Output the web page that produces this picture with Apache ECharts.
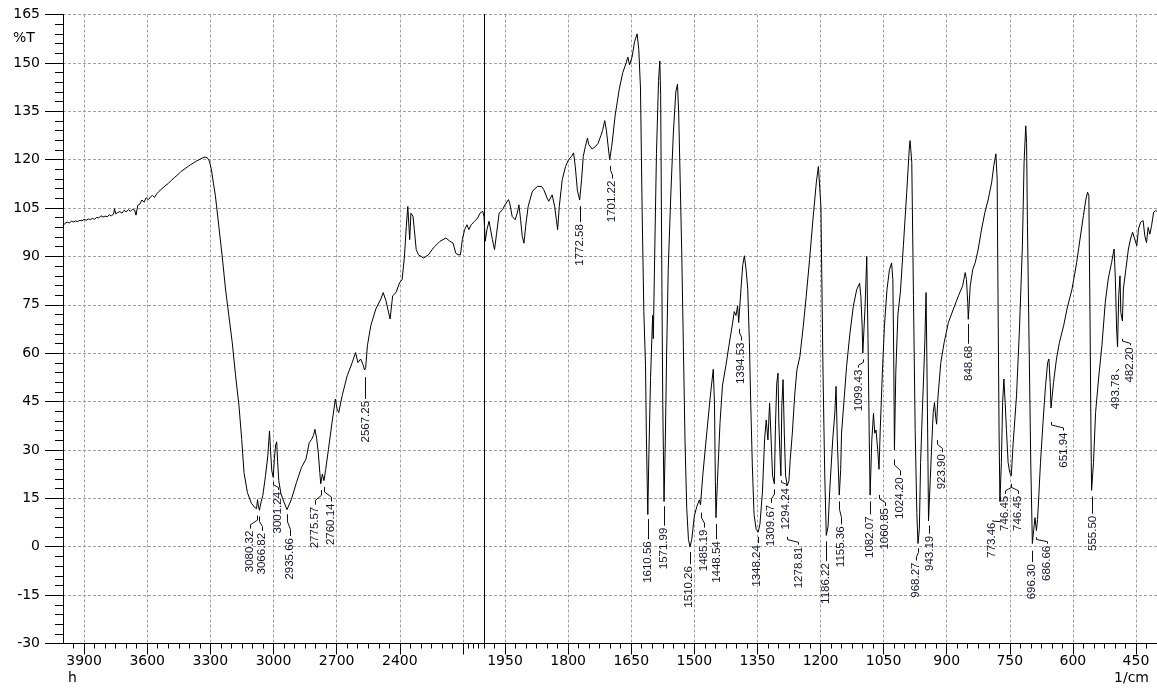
<!DOCTYPE html>
<html><head><meta charset="utf-8">
<script src="https://cdn.jsdelivr.net/npm/echarts@6/dist/echarts.min.js"></script>
<style>html,body{margin:0;padding:0;background:#fff}#c{width:1157px;height:689px}</style>
</head><body><div id="c"></div>
<script>
// ---------------- data (wavenumber in 1/cm, transmittance in %T) ----------------
const wavenumbers = [
4000,3990,3980,3970,3960,3950,3940,3930,3920,3910,3900,3890,3880,3870,3860,3850,3840,3830,3820,3810,
3800,3790,3780,3770,3760,3755,3750,3740,3730,3720,3710,3700,3690,3680,3670,3660,3653,3645,3635,3625,
3615,3605,3595,3585,3575,3565,3555,3545,3530,3515,3500,3485,3470,3455,3440,3425,3410,3395,3380,3365,
3350,3335,3325,3315,3305,3295,3285,3276,3260,3244,3228,3212,3196,3180,3164,3151,3140,3124,3105,3090,
3080.32,3076,3071,3066.82,3060,3051,3038,3027,3019,3013,3008,3001.24,2996,2990,2985,2980,2975,2965,2950,2935.66,
2915,2891,2867,2846,2830,2819,2810,2803,2795,2787,2780,2775.57,2768,2760.14,2752,2739,2722,2706,2698,2690,
2674,2650,2626,2610,2599,2586,2575,2567.25,2562,2554,2538,2514,2490,2479,2466,2458,2446,2434,2418,2400,
2389,2378,2369,2362,2353,2347,2337,2331,2322,2311,2287,2264,2241,2209,2181,2162,2147,2134,2123,2112,
2103,2092,2081,2072,2061,2045,2030,2019,2006,2000,
1997,1993,1988,1984,1980,1975,1970,1964,1956,1950,1942,1939,1933,1926,1921,1917,1913,1909,1905,1901,
1895,1885,1873,1863,1858,1850,1846,1838,1832,1828,1825,1821,1814,1806,1799,1792,1787,1783,1778,1772.58,
1768,1764,1759,1754,1751,1743,1735,1729,1722,1718,1713,1709,1705,1701.22,1696,1688,1678,1670,1662,1658,
1654,1648,1642,1636,1632,1628,1624,1620,1616,1614,1612,1610.56,1608,1604,1601,1599,1597.5,1594,1590,1585,
1582,1580,1577,1575,1571.99,1569,1566,1562,1556,1550,1544,1540,1537,1534,1530,1526,1522,1518,1514,1510.26,
1506,1500,1494,1488,1485.19,1480,1470,1462,1455,1452,1450,1448.54,1445,1439,1433,1425,1418,1409,1405,1401,
1397,1394.53,1389,1385,1381,1377,1373,1369,1366,1362,1358,1353,1348.24,1344,1338,1333,1329,1325,1321,1318,
1314,1309.67,1307,1304,1301,1299,1296.5,1294.24,1292,1289,1286,1283,1278.81,1275,1272,1267,1261,1256,1249,1241,
1234,1226,1218,1210,1205,1202,1199,1197,1194,1190,1186.22,1182,1178,1171,1166,1163,1160,1155.36,1152,1150,
1144,1138,1130,1122,1114,1107,1104,1101,1099.43,1094,1090,1087,1084,1082.07,1078,1074,1071,1068,1064,1060.85,
1058,1053,1048,1042,1036,1031,1028,1026,1024.2,1021,1016,1010,1003,995,989,987,983,979,975,971,
968.27,965,962,958,955,952,949,947,944.5,943.19,939,935,932,929,926,923.9,921,914,906,896,
884,872,862,856,853,850,848.68,844,838,832,825,817,809,801,793,788,783,780,778,775.5,
773.46,770,767,764,761,758,754,750,746.45,742,734,727,720,716,712,710,708,704,700,696.3,
693,690,686.66,684,681,677,671,665,660,657,654,651.94,646,639,632,622,614,602,591,583,
575,569,565,562,559,557,555.5,551,546,539,531,523,516,508,502,499,496,493.78,491,488,
486,482.2,480,474,468,463,458,453,448,444,439,433,429,425,421,417,413,408,403,400
];
const transmittance = [
99.5,100.3,100.6,100.4,100.9,100.7,101.0,100.8,101.2,101.0,101.5,101.2,101.6,101.4,101.8,101.5,102.1,101.9,102.6,102.2,
102.5,102.3,102.9,102.6,103.1,104.8,103.2,103.6,103.9,103.4,104.3,103.8,104.5,104.0,104.6,104.4,102.8,105.8,106.2,107.5,
106.8,108.2,107.6,108.4,108.9,108.3,109.4,110.1,111.0,111.9,112.6,113.6,114.5,115.3,116.3,117.0,117.7,118.4,119.0,119.6,
120.1,120.6,120.8,120.6,119.6,117,112.5,108.8,99.5,90.2,79.9,71.6,63.3,53,43.7,33.3,23,16.8,13.5,12.2,
11.8,14.6,12.4,11.3,13.6,15.8,22,28.2,35.9,28.7,23.5,21.5,27,31.5,32.5,26,20.5,16.5,13.8,11.5,
14.7,19.9,24.6,27.1,32.3,33.3,34.5,36.4,33.6,29,23,19.5,22.5,20.5,24,30.2,38.5,45.8,42.7,41.6,
46.8,53,57.1,60.2,57.1,58.2,56.5,54.8,55.5,62.3,68.5,73.7,76.8,78.8,76.3,76.8,70.6,77.8,78.8,82,
82.8,90,99.3,105.5,95.2,103.4,102.4,98.3,92.1,90.5,89.5,90.5,92.6,94.7,95.7,94.7,94.1,91,90.5,90.5,
95.2,98.3,99.8,98.3,99.8,100.9,101.9,103.4,104,102.4,
94.7,98.3,100.9,100.3,95.2,92.1,97.2,103.4,104.5,106,107.6,106.6,102.4,101.4,103.4,106,101.4,96.2,94.1,99.3,
105.5,110.2,111.7,111.7,110.7,108.1,107.1,109.1,105.5,101.4,98.3,105.5,113.8,117.9,120,121,122.1,117.9,110.5,107.5,
113.8,121,124.1,126.7,124.7,123.3,124.1,125,127.5,129.1,132.1,129.1,124.3,120,124.5,133.9,142.2,147,150,151.8,
149.4,151.8,156.6,159,154.2,142.2,104,72.9,56.1,34.6,20.2,10,28.6,52.5,64.5,71.7,64.5,92,121.9,144.6,
150.6,139.8,80,44.1,14,32.2,58.5,86,108.7,127.9,141,143.4,133.9,116,92,62.1,32.2,11.9,2.3,0,
2.3,9.5,12.5,14.5,13,22,35.8,46.6,55,44.2,20.3,9,20.3,38.2,50.1,56.1,62.1,69.3,72.9,71.7,
74.7,69.5,80,87.2,90.2,86,80,63.3,45,25,10,5.4,4.5,7,17,33.1,39.3,33.1,44.5,35.2,
22,19.5,38,50.7,53.8,38.3,29,22,43.5,51.8,35,22,19,20.5,27,35.2,47.6,54.9,59,68.3,
77.6,89,101.4,112.8,117.9,118.5,105.5,84.8,53.8,22.8,3.5,6.3,17.6,33.1,41.4,49.7,33.1,16,24,35.2,
45.5,55.9,66.2,74.5,79.7,81.7,77.6,68.3,60,74.5,90,64.2,33.1,16,33.1,41.4,35.2,36.2,30,24,
36.2,53.8,68.3,79.7,85.9,88,82.8,60,30,54,72,79,93.3,109.9,123.3,125.9,119.2,77.8,36.4,10.6,
1,5.4,26.1,41.6,52,63.3,78.8,57.1,26.1,8,20.9,33.4,41.6,44.7,40,38,46,57.1,63.3,69.5,
73.7,77.8,80.9,85,82.9,75.7,70.5,80.9,86,88.1,92.3,98.5,103.7,107.8,113,118.1,121.8,114,77.8,36.4,
14,26.1,44.7,52,44.7,36.4,26.1,23,22,32,46.8,67.5,93.3,119.2,130.5,125,100,62,25,1,
5.4,9,5,8.5,15.8,26.1,38.5,49.9,57.1,58.2,50.9,43,50.9,58.2,63.3,68.5,73.7,79.9,88.1,95.4,
102.6,107.8,109.9,108.8,67.5,35,17.5,26.1,41.6,52,62.3,75.7,83,88.1,92.3,83,67.5,62,77.8,84,
72.6,70,79.9,86,92.3,95.4,97.5,95.4,93.3,98.5,100.6,101.1,96.4,94.3,99,96.9,99.5,103.7,104.2,104
];

// peak annotations
const peakLabels = ['3080.32','3066.82','3001.24','2935.66','2775.57','2760.14','2567.25','1772.58','1701.22','1610.56',
  '1571.99','1510.26','1485.19','1448.54','1394.53','1348.24','1309.67','1294.24','1278.81','1186.22',
  '1155.36','1099.43','1082.07','1060.85','1024.20','968.27','943.19','923.90','848.68','773.46',
  '746.45','746.45','696.30','686.66','651.94','555.50','493.78','482.20'];
const peakT = [10.6,10.3,21,11,18.5,19.5,53.5,106.5,119,9.5,
  13.5,-0.7,11.5,8,68.5,4,18.7,21.5,4,2.6,
  15,59,15,17,28,0.5,7.5,34,70,8.5,
  20.4,20.4,-0.3,3.9,39.6,16.5,56,65.4];
// where each label text is placed (wavenumber of its column, %T of its top end)
const labelWavenumbers = [3114,3054,2978,2921,2805,2729,2563,1771.8,1696,1611,
  1572,1512.6,1478,1447,1390,1351,1318,1282,1252.5,1187,
  1152,1110,1082,1046.6,1011,973.5,939.4,911.6,847,793,
  761,730,698,662,622.3,553.7,497.3,464];
const labelT = [5,4.3,17,2.7,12.4,13.4,45.2,100,113.5,1.7,
  5.9,-6,5.3,1.7,63.3,0.5,13,18.2,0,-5.1,
  6.3,54.9,9.4,12,21.5,-4.9,3.4,28.7,62.3,7.5,
  15.8,15.8,-5.4,0.3,35.4,9.6,53.5,61.8];

// axis ticks
const leftTickLabels = [3900,3600,3300,3000,2700,2400];
const leftTicks = [3900,3600,3300,3000,2700,2400,2100];
const leftMinorTicks = [3950,3850,3800,3750,3700,3650,3550,3500,3450,3400,3350,3250,3200,3150,3100,3050,2950,2900,2850,2800,2750,2650,2600,2550,2500,2450,2350,2300,2250,2200,2150,2075,2050,2025];
const rightTickLabels = [1950,1800,1650,1500,1350,1200,1050,900,750,600,450];

// ---------------- build ----------------
const BREAK = 2000;
const leftData = [], rightData = [];
for (let i = 0; i < wavenumbers.length; i++) {
  const p = [wavenumbers[i], transmittance[i]];
  if (wavenumbers[i] >= BREAK) leftData.push(p);
  if (wavenumbers[i] <= BREAK) rightData.push(p);
}
const leftPeaks = [], rightPeaks = [];
for (let i = 0; i < peakLabels.length; i++) {
  const w = parseFloat(peakLabels[i]);
  const item = {value: [w, peakT[i], labelWavenumbers[i], labelT[i]], name: peakLabels[i]};
  (w >= BREAK ? leftPeaks : rightPeaks).push(item);
}

const AXIS_FONT = 'DejaVu Sans';
const PEAK_FONT = '11.5px "Liberation Sans", Arial, sans-serif';
const gridDash = {color: '#a0a0a0', width: 1, type: [3, 2]};
const plain = v => String(v);

function renderPeak(params, api) {
  const a = api.coord([api.value(0), api.value(1)]);
  const b = api.coord([api.value(2), api.value(3)]);
  const x0 = Math.round(a[0]) + 0.5, y0 = a[1] + 3;
  const x3 = Math.round(b[0]) + 0.5, y3 = b[1] - 2;
  const d = y3 - y0;
  let pts;
  if (Math.abs(x3 - x0) < 1.5) pts = [[x0, y0], [x0, y3]];
  else pts = [[x0, y0], [x0, y0 + d * 0.35], [x3, y0 + d * 0.7], [x3, y3]];
  const name = params.seriesIndex === 2 ? leftPeaks[params.dataIndex].name : rightPeaks[params.dataIndex].name;
  return {
    type: 'group',
    children: [
      {type: 'polyline', shape: {points: pts}, style: {stroke: '#111', lineWidth: 1, fill: null}},
      {type: 'text', x: b[0], y: b[1], rotation: Math.PI / 2,
       style: {text: name, x: 0, y: 0, align: 'right', verticalAlign: 'middle', font: PEAK_FONT, fill: '#14142a'}}
    ]
  };
}

const chart = echarts.init(document.getElementById('c'), null, {renderer: 'canvas'});
const axisLine = {show: true, onZero: false, lineStyle: {color: '#000', width: 1}};
chart.setOption({
  animation: false,
  backgroundColor: '#fff',
  grid: [
    {left: 63, top: 14.5, width: 421, height: 629},
    {left: 484, top: 14.5, width: 673, height: 629}
  ],
  xAxis: [
    {gridIndex: 0, type: 'value', min: 2000, max: 4000, inverse: true, position: 'bottom',
     axisLine: axisLine,
     axisTick: {show: true, length: 11, customValues: leftTicks, lineStyle: {color: '#000'}},
     axisLabel: {customValues: leftTickLabels, margin: 11, color: '#000', fontFamily: AXIS_FONT, fontSize: 14, formatter: plain},
     splitLine: {show: true, lineStyle: gridDash}},
    {gridIndex: 0, type: 'value', min: 2000, max: 4000, inverse: true, position: 'bottom',
     axisLine: {show: false, onZero: false},
     axisTick: {show: true, length: 5, customValues: leftMinorTicks, lineStyle: {color: '#000'}},
     axisLabel: {show: false}, splitLine: {show: false}},
    {gridIndex: 1, type: 'value', min: 400, max: 2000, inverse: true, position: 'bottom',
     axisLine: axisLine,
     axisTick: {show: true, length: 11, customValues: rightTickLabels, lineStyle: {color: '#000'}},
     axisLabel: {customValues: rightTickLabels, margin: 11, color: '#000', fontFamily: AXIS_FONT, fontSize: 14, formatter: plain},
     splitLine: {show: true, lineStyle: gridDash}},
    {gridIndex: 1, type: 'value', min: 400, max: 2000, inverse: true, position: 'bottom', interval: 25,
     axisLine: {show: false, onZero: false},
     axisTick: {show: true, length: 5, lineStyle: {color: '#000'}},
     axisLabel: {show: false}, splitLine: {show: false}}
  ],
  yAxis: [
    {gridIndex: 0, type: 'value', min: -30, max: 165, interval: 15,
     axisLine: axisLine,
     axisTick: {show: true, length: 18, lineStyle: {color: '#000'}},
     minorTick: {show: true, splitNumber: 5, length: 8, lineStyle: {color: '#000'}},
     axisLabel: {margin: 23, color: '#000', fontFamily: AXIS_FONT, fontSize: 14, formatter: plain},
     splitLine: {show: true, lineStyle: gridDash}},
    {gridIndex: 1, type: 'value', min: -30, max: 165, interval: 15,
     axisLine: axisLine, axisTick: {show: false}, axisLabel: {show: false},
     splitLine: {show: true, lineStyle: gridDash}}
  ],
  graphic: [
    {type: 'text', left: 13, top: 31, style: {text: '%T', font: '14px "DejaVu Sans"', fill: '#000'}},
    {type: 'text', left: 68, top: 671, style: {text: 'h', font: '14px "DejaVu Sans"', fill: '#000'}},
    {type: 'text', right: 8, top: 671, style: {text: '1/cm', font: '14px "DejaVu Sans"', fill: '#000'}}
  ],
  series: [
    {type: 'line', xAxisIndex: 0, yAxisIndex: 0, data: leftData, showSymbol: false, symbol: 'none',
     lineStyle: {color: '#000', width: 1}, silent: true},
    {type: 'line', xAxisIndex: 2, yAxisIndex: 1, data: rightData, showSymbol: false, symbol: 'none',
     lineStyle: {color: '#000', width: 1}, silent: true},
    {type: 'custom', xAxisIndex: 0, yAxisIndex: 0, data: leftPeaks, renderItem: renderPeak, silent: true,
     encode: {x: 0, y: 1}, clip: false},
    {type: 'custom', xAxisIndex: 2, yAxisIndex: 1, data: rightPeaks, renderItem: renderPeak, silent: true,
     encode: {x: 0, y: 1}, clip: false}
  ]
});
</script></body></html>
